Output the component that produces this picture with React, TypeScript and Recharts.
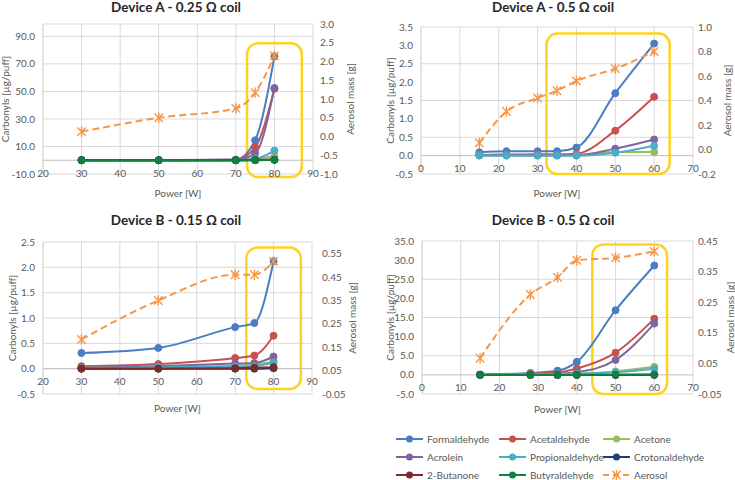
import { LineChart, Line, XAxis, YAxis, CartesianGrid, ReferenceLine, ReferenceArea, Label } from 'recharts';

const FONT = 'Lato, "Open Sans", sans-serif';
const TEXT = '#595959';
const GRID = '#D9D9D9';
const BOX = '#FFD21F';

const COMPOUNDS = ['Formaldehyde', 'Acetaldehyde', 'Acetone', 'Acrolein', 'Propionaldehyde', 'Crotonaldehyde', '2-Butanone', 'Butyraldehyde'];
const COMPOUND_COLORS = ['#4A7EC4', '#C8504D', '#9BBB59', '#8064A2', '#4BACC6', '#1F3F6E', '#7B2C2A', '#0E8040'];
const AEROSOL = 'Aerosol';
const AEROSOL_COLOR = '#F79646';

// Device A - 0.25 ohm (carbonyl series in COMPOUNDS order, null = not plotted)
const powerA025 = [30, 50, 70, 75, 80];
const carbonylsA025 = [
  [0.1, 0.1, 0.5, 14.5, 75.5],
  [0.05, 0.05, 0.3, 9.5, 52],
  [0, 0, 0.1, 1, 3],
  [0, 0, 0.2, 5, 52.5],
  [0, 0, 0.1, 1, 7],
  [0, 0, 0, 0.2, 0.5],
  [0, 0, 0, 0.1, 0.3],
  [0, 0, 0, 0, 0.3],
];
const aerosolA025 = [0.13, 0.5, 0.75, 1.17, 2.15];

// Device A - 0.5 ohm
const powerA05 = [15, 22, 30, 35, 40, 50, 60];
const carbonylsA05 = [
  [0.09, 0.12, 0.12, 0.12, 0.22, 1.7, 3.05],
  [0.02, 0.03, 0.04, 0.03, 0.05, 0.68, 1.6],
  [0.02, 0.02, 0.02, 0.02, 0.02, 0.1, 0.1],
  [0.01, 0.01, 0.01, 0.01, 0.01, 0.19, 0.44],
  [0, 0, 0, 0, 0, 0.08, 0.27],
  null,
  null,
  null,
];
const aerosolA05 = [0.054, 0.31, 0.42, 0.48, 0.56, 0.66, 0.8];

// Device B - 0.15 ohm
const powerB015 = [30, 50, 70, 75, 80];
const carbonylsB015 = [
  [0.31, 0.41, 0.82, 0.9, 2.12],
  [0.05, 0.09, 0.21, 0.26, 0.65],
  [0.02, 0.04, 0.06, 0.07, 0.15],
  [0.02, 0.05, 0.1, 0.11, 0.24],
  [0.01, 0.03, 0.04, 0.05, 0.12],
  [0, 0, 0, 0, 0.01],
  [0, 0, 0.01, 0.02, 0.03],
  null,
];
const aerosolB015 = [0.183, 0.35, 0.46, 0.46, 0.517];

// Device B - 0.5 ohm
const powerB05 = [15, 28, 35, 40, 50, 60];
const carbonylsB05 = [
  [0.1, 0.5, 1.1, 3.4, 16.9, 28.6],
  [0.05, 0.3, 0.6, 1.65, 5.8, 14.7],
  [0, 0.1, 0.2, 0.3, 0.9, 2.1],
  [0, 0.1, 0.3, 0.7, 3.9, 13.4],
  [0, 0.1, 0.2, 0.3, 0.7, 1.6],
  [0, 0, 0, 0, 0, 0.05],
  [0, 0, 0, 0, 0, 0],
  [0, 0, 0, 0, 0.05, 0.1],
];
const aerosolB05 = [0.067, 0.275, 0.331, 0.387, 0.395, 0.416];

// axis ticks
const xTicksHigh = [20, 30, 40, 50, 60, 70, 80, 90];
const xTicksLow = [0, 10, 20, 30, 40, 50, 60, 70];
const leftTicksA025 = [-10, 10, 30, 50, 70, 90];
const rightTicksA025 = [-1, -0.5, 0, 0.5, 1, 1.5, 2, 2.5, 3];
const leftTicksA05 = [-0.5, 0, 0.5, 1, 1.5, 2, 2.5, 3, 3.5];
const rightTicksA05 = [-0.2, 0, 0.2, 0.4, 0.6, 0.8, 1];
const leftTicksB015 = [-0.5, 0, 0.5, 1, 1.5, 2, 2.5];
const rightTicksB015 = [-0.05, 0.05, 0.15, 0.25, 0.35, 0.45, 0.55];
const leftTicksB05 = [-5, 0, 5, 10, 15, 20, 25, 30, 35];
const rightTicksB05 = [-0.05, 0.05, 0.15, 0.25, 0.35, 0.45];

// highlighted region [x1, x2, y1, y2] in left-axis units
const boxA025 = [72.9, 87.1, -12.2, 85];
const boxA05 = [32.3, 64, -0.5, 3.32];
const boxB015 = [72.9, 87.1, -0.4, 2.39];
const boxB05 = [44, 63.3, -5, 34.1];

function buildRows(power: number[], carbonyls: (number[] | null)[], aerosol: number[]) {
  return power.map((p, i) => {
    const row: any = { power: p, [AEROSOL]: aerosol[i] };
    COMPOUNDS.forEach((c, k) => {
      const s = carbonyls[k];
      if (s) row[c] = s[i];
    });
    return row;
  });
}

const panels = [
  {
    title: 'Device A - 0.25 Ω coil', left: 0, top: 0, width: 367, height: 205, mTop: 24,
    leftW: 43, rightW: 54, rightMargin: 7, leftLabelOff: 5, rightLabelOff: 17, xLabelOff: 8,
    titleX: 176, titleY: 7,
    xDomain: [20, 90], xTicks: xTicksHigh,
    leftDomain: [-10, 99], leftTicks: leftTicksA025, leftDigits: 1,
    rightDomain: [-1, 3], rightTicks: rightTicksA025, rightDigits: 1,
    rows: buildRows(powerA025, carbonylsA025, aerosolA025), series: carbonylsA025, box: boxA025,
  },
  {
    title: 'Device A - 0.5 Ω coil', left: 365, top: 0, width: 370, height: 205, mTop: 27,
    leftW: 56, rightW: 42, rightMargin: 5, leftLabelOff: 25, rightLabelOff: 8, xLabelOff: 8,
    titleX: 553, titleY: 7,
    xDomain: [0, 70], xTicks: xTicksLow,
    leftDomain: [-0.5, 3.5], leftTicks: leftTicksA05, leftDigits: 1,
    rightDomain: [-0.2, 1], rightTicks: rightTicksA05, rightDigits: 1,
    rows: buildRows(powerA05, carbonylsA05, aerosolA05), series: carbonylsA05, box: boxA05,
  },
  {
    title: 'Device B - 0.15 Ω coil', left: 0, top: 220, width: 367, height: 200, mTop: 22,
    leftW: 43, rightW: 55, rightMargin: 10, leftLabelOff: 12, rightLabelOff: 15, xLabelOff: 8,
    titleX: 176, titleY: 220,
    xDomain: [20, 90], xTicks: xTicksHigh,
    leftDomain: [-0.5, 2.5], leftTicks: leftTicksB015, leftDigits: 1,
    rightDomain: [-0.05, 0.6], rightTicks: rightTicksB015, rightDigits: 2,
    rows: buildRows(powerB015, carbonylsB015, aerosolB015), series: carbonylsB015, box: boxB015,
  },
  {
    title: 'Device B - 0.5 Ω coil', left: 365, top: 220, width: 370, height: 200, mTop: 21,
    leftW: 57, rightW: 42, rightMargin: 5, leftLabelOff: 25, rightLabelOff: 5, xLabelOff: 7,
    titleX: 553, titleY: 220,
    xDomain: [0, 70], xTicks: xTicksLow,
    leftDomain: [-5, 35], leftTicks: leftTicksB05, leftDigits: 1,
    rightDomain: [-0.05, 0.45], rightTicks: rightTicksB05, rightDigits: 2,
    rows: buildRows(powerB05, carbonylsB05, aerosolB05), series: carbonylsB05, box: boxB05,
  },
];

const xAxisH = (p: any) => (p.top === 0 ? 31 : 26);

const StarDot = (props: any) => {
  const { cx, cy } = props;
  if (cx == null || cy == null) return null;
  const s = 4.2;
  return (
    <g stroke={AEROSOL_COLOR} strokeWidth={1.4}>
      <line x1={cx - s} y1={cy - s} x2={cx + s} y2={cy + s} />
      <line x1={cx - s} y1={cy + s} x2={cx + s} y2={cy - s} />
      <line x1={cx} y1={cy - s - 1} x2={cx} y2={cy + s + 1} />
    </g>
  );
};

const RoundBox = (props: any) => (
  <rect x={props.x} y={props.y} width={props.width} height={props.height} rx={11} ry={11}
    fill="none" stroke={BOX} strokeWidth={2.5} />
);

function Panel({ p }: { p: any }) {
  const xh = xAxisH(p);
  const plotH = p.height - p.mTop - xh;
  const zeroOff = (plotH * (0 - p.leftDomain[0])) / (p.leftDomain[1] - p.leftDomain[0]);
  const XTick = (t: any) => (
    <text x={t.x} y={t.y - zeroOff + 12.5} textAnchor="middle" dominantBaseline="central"
      fontSize={10} fill={TEXT} fontFamily={FONT}>{t.payload.value}</text>
  );
  const tickStyle = { fontSize: 10, fill: TEXT, fontFamily: FONT };
  const labelStyle = { fontSize: 10, fill: TEXT, fontFamily: FONT, textAnchor: 'middle' as const };
  return (
    <div style={{ position: 'absolute', left: p.left, top: p.top }}>
      <LineChart width={p.width} height={p.height} data={p.rows}
        margin={{ top: p.mTop, right: 0, bottom: 0, left: 0 }}>
        <CartesianGrid yAxisId="left" stroke={GRID} strokeWidth={1} />
        <XAxis dataKey="power" type="number" domain={p.xDomain} ticks={p.xTicks} height={xh}
          axisLine={false} tickLine={false} tickSize={0} tickMargin={0} tick={XTick}>
          <Label value="Power [W]" position="insideBottom" offset={p.xLabelOff} style={labelStyle} />
        </XAxis>
        <YAxis yAxisId="left" type="number" domain={p.leftDomain} ticks={p.leftTicks} width={p.leftW}
          axisLine={{ stroke: GRID }} tickLine={false} tickSize={0} tickMargin={8} tick={tickStyle}
          tickFormatter={(v: number) => v.toFixed(p.leftDigits)}>
          <Label value="Carbonyls [µg/puff]" angle={-90} position="insideLeft" offset={p.leftLabelOff} style={labelStyle} />
        </YAxis>
        <YAxis yAxisId="right" orientation="right" type="number" domain={p.rightDomain} ticks={p.rightTicks}
          width={p.rightW} axisLine={false} tickLine={false} tickSize={0} tickMargin={p.rightMargin}
          tick={{ ...tickStyle, textAnchor: 'start' }}
          tickFormatter={(v: number) => v.toFixed(p.rightDigits)}>
          <Label value="Aerosol mass [g]" angle={-90} position="insideRight" offset={p.rightLabelOff} style={labelStyle} />
        </YAxis>
        <ReferenceLine yAxisId="left" y={0} stroke="#BFBFBF" strokeWidth={1} />
        {COMPOUNDS.map((c, k) =>
          p.series[k] ? (
            <Line key={c} yAxisId="left" type="monotone" dataKey={c} stroke={COMPOUND_COLORS[k]}
              strokeWidth={2} dot={{ r: 3.5, fill: COMPOUND_COLORS[k], stroke: COMPOUND_COLORS[k], strokeWidth: 1 }}
              isAnimationActive={false} />
          ) : null
        )}
        <Line yAxisId="right" type="monotone" dataKey={AEROSOL} stroke={AEROSOL_COLOR} strokeWidth={2}
          strokeDasharray="7 4" dot={<StarDot />} isAnimationActive={false} />
        <ReferenceArea yAxisId="left" x1={p.box[0]} x2={p.box[1]} y1={p.box[2]} y2={p.box[3]}
          ifOverflow="visible" shape={RoundBox} />
      </LineChart>
      <div style={{
        position: 'absolute', left: p.titleX - p.left - 150, top: p.titleY - p.top - 8, width: 300,
        textAlign: 'center', fontFamily: FONT, fontWeight: 'bold', fontSize: 13.5, lineHeight: '16px', color: '#262626',
      }}>{p.title}</div>
    </div>
  );
}

function LegendBlock() {
  const names = [...COMPOUNDS, AEROSOL];
  const colors = [...COMPOUND_COLORS, AEROSOL_COLOR];
  const colX = [396, 499, 603];
  const rowY = [14, 32, 50];
  return (
    <svg width={735} height={55} style={{ position: 'absolute', left: 0, top: 425 }}>
      {names.map((n, i) => {
        const x = colX[i % 3];
        const y = rowY[Math.floor(i / 3)];
        const col = colors[i];
        const aerosol = n === AEROSOL;
        return (
          <g key={n}>
            <line x1={x} y1={y} x2={x + 27} y2={y} stroke={col} strokeWidth={2}
              strokeDasharray={aerosol ? '6 4' : undefined} />
            {aerosol ? <StarDot cx={x + 13.5} cy={y} /> : <circle cx={x + 13.5} cy={y} r={3.5} fill={col} />}
            <text x={x + 31} y={y} dominantBaseline="central" fontSize={10} fill={TEXT} fontFamily={FONT}>{n}</text>
          </g>
        );
      })}
    </svg>
  );
}

export default function App() {
  return (
    <div style={{ position: 'absolute', left: 0, top: 0, width: 735, height: 480, background: '#fff', overflow: 'hidden' }}>
      {panels.map((p) => <Panel key={p.title} p={p} />)}
      <LegendBlock />
    </div>
  );
}
